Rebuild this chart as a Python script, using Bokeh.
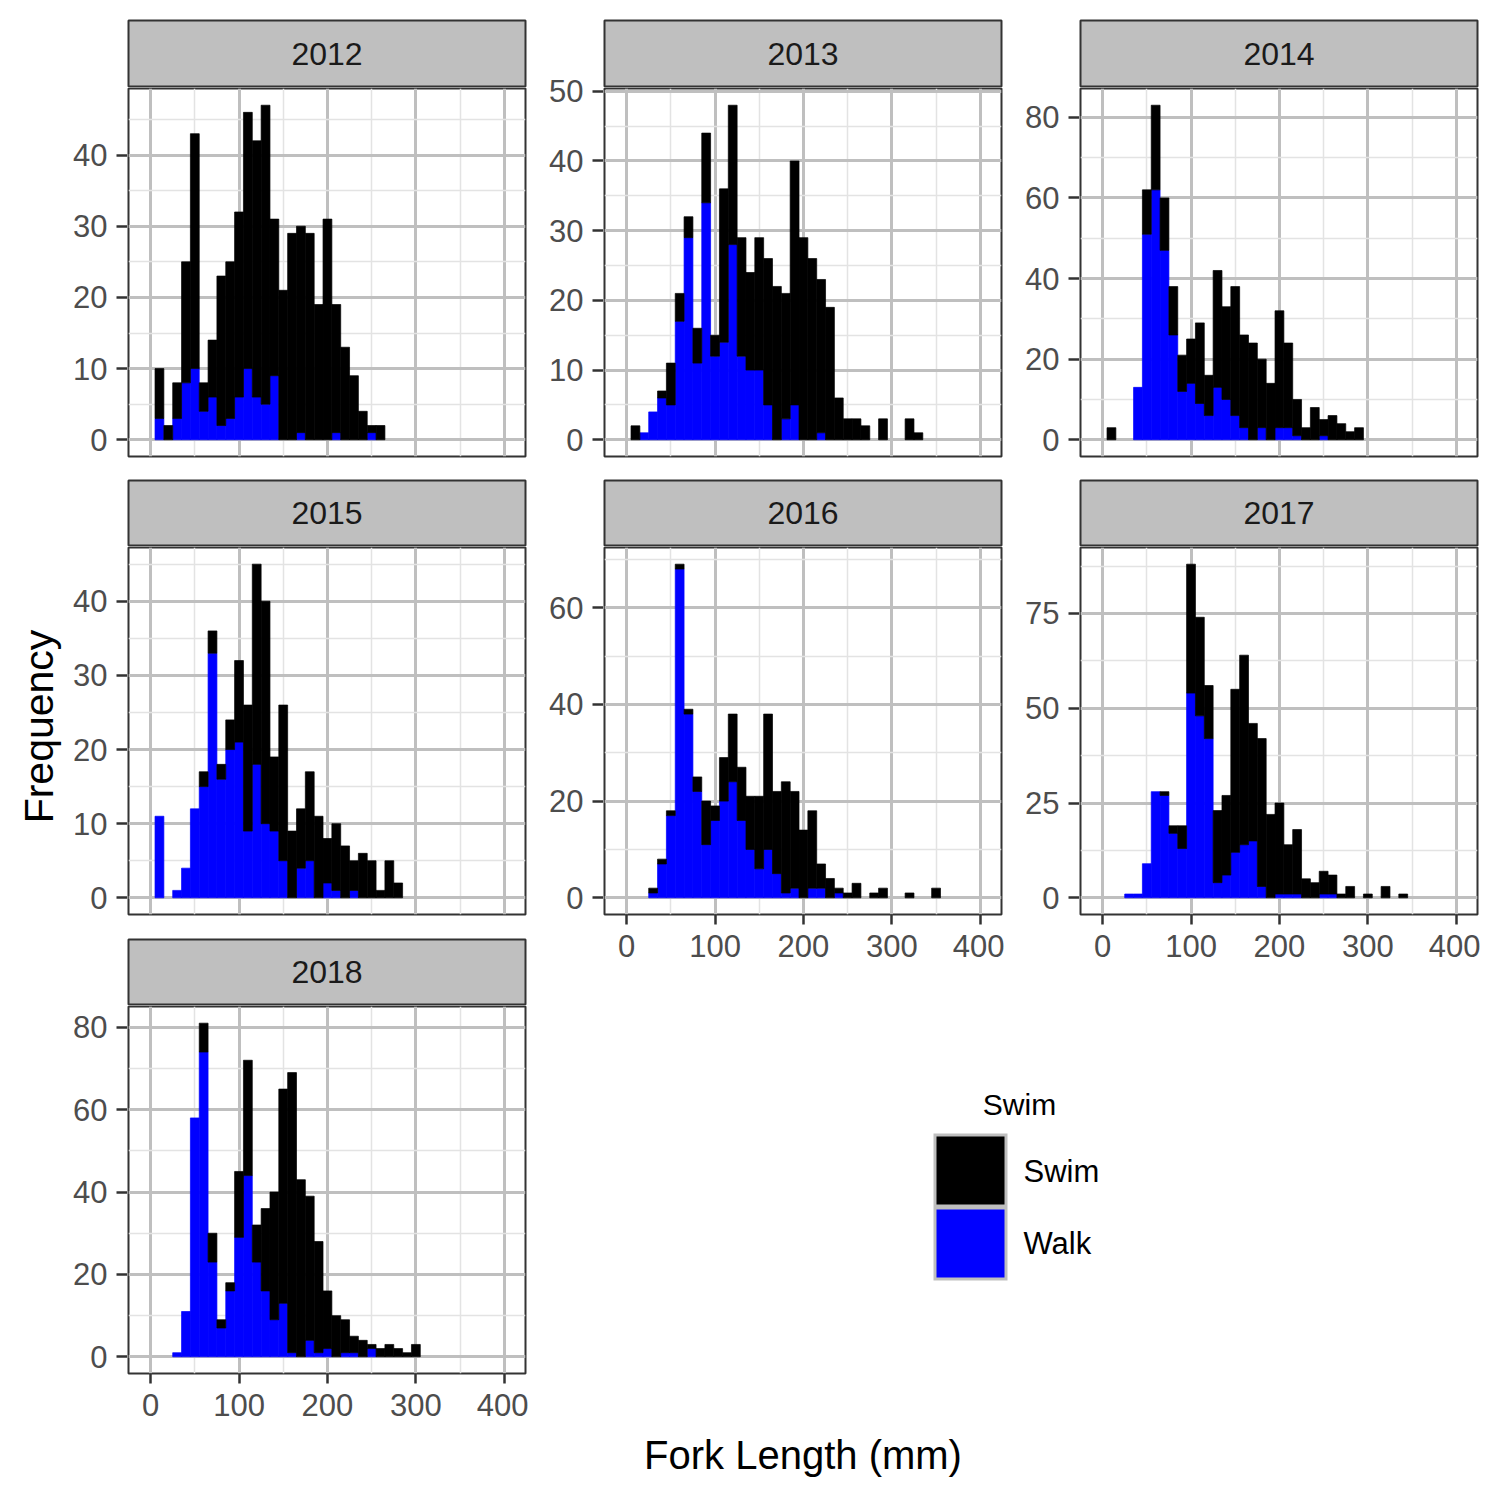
import math
from bokeh.plotting import figure
from bokeh.models import Range1d, FixedTicker, ColumnDataSource, Grid
from bokeh.layouts import row, column
from bokeh.core.properties import value
from bokeh.embed import file_html
from bokeh.resources import INLINE

FONT = "Liberation Sans"

# ---------------- data ----------------
bin_centers = [10, 20, 30, 40, 50, 60, 70, 80, 90, 100, 110, 120, 130, 140, 150,
               160, 170, 180, 190, 200, 210, 220, 230, 240, 250, 260, 270, 280,
               290, 300, 310, 320, 330, 340, 350]
bin_width = 10

years = ["2012", "2013", "2014", "2015", "2016", "2017", "2018"]

walk_2012 = [3, 0, 3, 8, 10, 4, 6, 2, 3, 6, 10, 6, 5, 9, 0, 0, 1, 0, 0, 0, 1, 0, 0, 0, 1, 0]
swim_2012 = [7, 2, 5, 17, 33, 4, 8, 21, 22, 26, 36, 36, 42, 22, 21, 29, 29, 29, 19, 31, 18, 13, 9, 4, 1, 2]

walk_2013 = [0, 1, 4, 6, 5, 17, 29, 11, 34, 12, 14, 28, 12, 10, 10, 5, 0, 3, 5, 0, 0, 1, 0, 0, 0, 0, 0, 0, 0, 0, 0, 0, 0]
swim_2013 = [2, 0, 0, 1, 6, 4, 3, 5, 10, 3, 22, 20, 17, 14, 19, 21, 22, 18, 35, 29, 26, 22, 19, 6, 3, 3, 2, 0, 3, 0, 0, 3, 1]

walk_2014 = [0, 0, 0, 13, 51, 62, 47, 26, 12, 14, 9, 6, 13, 10, 6, 3, 0, 3, 0, 3, 3, 1, 0, 0, 1, 0, 0, 0, 0]
swim_2014 = [3, 0, 0, 0, 11, 21, 13, 12, 9, 11, 20, 10, 29, 23, 32, 23, 24, 17, 14, 29, 21, 9, 3, 8, 4, 6, 4, 2, 3]

walk_2015 = [11, 0, 1, 4, 12, 15, 33, 16, 20, 21, 9, 18, 10, 9, 5, 0, 4, 5, 0, 2, 1, 0, 1, 0, 0, 0, 0, 0]
swim_2015 = [0, 0, 0, 0, 0, 2, 3, 2, 4, 11, 17, 27, 30, 10, 21, 9, 8, 12, 11, 6, 9, 7, 4, 6, 5, 1, 5, 2]

walk_2016 = [0, 0, 1, 7, 17, 68, 38, 22, 11, 16, 20, 24, 16, 10, 6, 10, 5, 1, 2, 0, 2, 2, 0, 1, 0, 0, 0, 0, 0, 0, 0, 0, 0, 0, 0]
swim_2016 = [0, 0, 1, 1, 1, 1, 1, 3, 9, 3, 9, 14, 11, 11, 15, 28, 17, 23, 20, 14, 16, 5, 4, 1, 1, 3, 0, 1, 2, 0, 0, 1, 0, 0, 2]

walk_2017 = [0, 0, 1, 1, 9, 28, 27, 17, 13, 54, 48, 42, 4, 6, 12, 14, 15, 3, 0, 1, 1, 1, 0, 0, 1, 1, 0, 0, 0, 0, 0, 0, 0, 0]
swim_2017 = [0, 0, 0, 0, 0, 0, 1, 2, 6, 34, 26, 14, 19, 21, 43, 50, 31, 39, 22, 24, 13, 17, 5, 4, 6, 5, 1, 3, 0, 1, 0, 3, 0, 1]

walk_2018 = [0, 0, 1, 11, 58, 74, 23, 7, 16, 29, 44, 23, 16, 9, 13, 1, 0, 4, 1, 2, 0, 1, 1, 0, 2, 0, 0, 0, 0, 0]
swim_2018 = [0, 0, 0, 0, 0, 7, 7, 2, 2, 16, 28, 9, 20, 31, 52, 68, 43, 35, 27, 14, 10, 8, 4, 4, 1, 2, 3, 2, 1, 3]

x_ticks = [0, 100, 200, 300, 400]
x_minor_ticks = [50, 150, 250, 350]

y_ticks_2012 = [0, 10, 20, 30, 40]
y_minor_2012 = [5, 15, 25, 35, 45]
y_ticks_2013 = [0, 10, 20, 30, 40, 50]
y_minor_2013 = [5, 15, 25, 35, 45]
y_ticks_2014 = [0, 20, 40, 60, 80]
y_minor_2014 = [10, 30, 50, 70]
y_ticks_2015 = [0, 10, 20, 30, 40]
y_minor_2015 = [5, 15, 25, 35, 45]
y_ticks_2016 = [0, 20, 40, 60]
y_minor_2016 = [10, 30, 50, 70]
y_ticks_2017 = [0, 25, 50, 75]
y_minor_2017 = [12.5, 37.5, 62.5, 87.5]
y_ticks_2018 = [0, 20, 40, 60, 80]
y_minor_2018 = [10, 30, 50, 70]

walk_color = "#0000FF"
swim_color = "#000000"
legend_order = ["Swim", "Walk"]
legend_colors = ["#000000", "#0000FF"]
x_title = "Fork Length (mm)"
y_title = "Frequency"
legend_title = "Swim"

# ---------------- style ----------------
MAJOR_GRID = "#BFBFBF"
MINOR_GRID = "#E3E3E3"
BORDER = "#333333"
TICK_TXT = "#4D4D4D"
PW = 401  # width of strip / panel figures (1 + 397 frame + 3)


def style_axis(ax):
    ax.axis_line_color = None
    ax.major_tick_in = 1
    ax.major_tick_out = 10
    ax.minor_tick_in = 0
    ax.minor_tick_out = 0
    ax.major_tick_line_color = BORDER
    ax.major_tick_line_width = 2.5
    ax.major_label_text_font = FONT
    ax.major_label_text_font_size = "31px"
    ax.major_label_text_color = TICK_TXT


def make_cell(label, walk, swim, yticks, yminor, axis_w, strip_top, panel_h, bottom, show_x):
    strip_frame = 66 if strip_top > 1 else 65
    strip_h = strip_top + strip_frame + 1

    n = len(walk)
    xs = bin_centers[:n]
    totals = [w + s for w, s in zip(walk, swim)]
    ymax = max(totals)
    yr = Range1d(-0.05 * ymax, 1.05 * ymax)

    # strip
    s = figure(width=PW, height=strip_h, x_range=Range1d(0, 1), y_range=Range1d(0, 1),
               x_axis_type=None, y_axis_type=None,
               output_backend="svg", toolbar_location=None, title=None,
               min_border_left=1, min_border_right=3,
               min_border_top=strip_top, min_border_bottom=1)
    s.background_fill_color = "#BFBFBF"
    s.border_fill_color = "white"
    s.outline_line_color = BORDER
    s.outline_line_width = 2
    s.text(x=[0.5], y=[0.5], text=[label], text_align="center",
           text_baseline="middle", text_font=value(FONT),
           text_font_size="32px", text_color="#1A1A1A")

    # panel
    w_src = ColumnDataSource(dict(
        x=[x for x, w in zip(xs, walk) if w > 0],
        top=[w for w in walk if w > 0]))
    s_src = ColumnDataSource(dict(
        x=[x for x, sw in zip(xs, swim) if sw > 0],
        bottom=[w for w, sw in zip(walk, swim) if sw > 0],
        top=[w + sw for w, sw in zip(walk, swim) if sw > 0]))
    p = figure(width=PW, height=1 + panel_h + bottom,
               x_range=Range1d(-25, 424), y_range=yr,
               y_axis_type=None,
               output_backend="svg", toolbar_location=None, title=None,
               min_border_left=1, min_border_right=3,
               min_border_top=1, min_border_bottom=bottom)
    p.vbar(x="x", width=bin_width, bottom=0, top="top", source=w_src,
           fill_color=walk_color, line_color=walk_color, line_width=0.7)
    p.vbar(x="x", width=bin_width, bottom="bottom", top="top", source=s_src,
           fill_color=swim_color, line_color=swim_color, line_width=0.7)
    xt = FixedTicker(ticks=x_ticks, minor_ticks=x_minor_ticks)
    yt = FixedTicker(ticks=yticks, minor_ticks=yminor)
    p.xaxis.ticker = xt
    p.xgrid.ticker = xt
    p.add_layout(Grid(dimension=1, ticker=yt))
    for g in p.grid:
        g.grid_line_color = MAJOR_GRID
        g.grid_line_width = 3
        g.minor_grid_line_color = MINOR_GRID
        g.minor_grid_line_width = 1.5
    p.background_fill_color = "white"
    p.border_fill_color = "white"
    p.outline_line_color = BORDER
    p.outline_line_width = 2
    style_axis(p.xaxis[0])
    p.xaxis.major_tick_in = 0
    p.xaxis.major_label_standoff = 10
    p.xaxis.visible = show_x

    # y axis (own narrow figure so its labels may rise beside the strip)
    a = figure(width=axis_w, height=strip_h + 1 + panel_h + bottom,
               x_range=Range1d(0, 1), y_range=yr, x_axis_type=None,
               output_backend="svg", toolbar_location=None, title=None,
               min_border_left=axis_w - 1, min_border_right=0,
               min_border_top=strip_h + 1, min_border_bottom=bottom)
    a.yaxis.ticker = yt
    a.grid.visible = False
    a.outline_line_color = None
    a.background_fill_color = "white"
    a.border_fill_color = "white"
    style_axis(a.yaxis[0])
    a.yaxis.major_label_standoff = 9

    return row(a, column(s, p))


YW = 68
A1 = 59   # axis strip for column 1
A2 = 75   # axis strip for columns 2 and 3
XB = 56   # space under panels that carry an x axis

c1 = column(
    make_cell(years[0], walk_2012, swim_2012, y_ticks_2012, y_minor_2012, A1, 20, 368, 23, False),
    make_cell(years[3], walk_2015, swim_2015, y_ticks_2015, y_minor_2015, A1, 1, 367, 24, False),
    make_cell(years[6], walk_2018, swim_2018, y_ticks_2018, y_minor_2018, A1, 1, 367, XB, True),
)
c2 = column(
    make_cell(years[1], walk_2013, swim_2013, y_ticks_2013, y_minor_2013, A2, 20, 368, 23, False),
    make_cell(years[4], walk_2016, swim_2016, y_ticks_2016, y_minor_2016, A2, 1, 367, XB, True),
)
c3 = column(
    make_cell(years[2], walk_2014, swim_2014, y_ticks_2014, y_minor_2014, A2, 20, 368, 23, False),
    make_cell(years[5], walk_2017, swim_2017, y_ticks_2017, y_minor_2017, A2, 1, 367, XB, True),
)

C1_H = 87 + 392 + 67 + 392 + 67 + (1 + 367 + XB)
C2_H = 87 + 392 + 67 + (1 + 367 + XB)
LG_H = C1_H - C2_H
W1 = A1 + PW
W2 = A2 + PW
X0 = YW + W1  # page x where column 2 starts

# legend area (page pixel coordinates, y negated)
lg = figure(width=2 * W2, height=LG_H,
            x_range=Range1d(X0, X0 + 2 * W2), y_range=Range1d(-C1_H, -C2_H),
            x_axis_type=None, y_axis_type=None,
            output_backend="svg", toolbar_location=None, title=None,
            min_border_left=0, min_border_right=0, min_border_top=0, min_border_bottom=0)
lg.outline_line_color = None
lg.grid.visible = False
lg.quad(left=[933], right=[1007], top=[-1133], bottom=[-1280],
        fill_color="#BFBFBF", line_color=None)
lg.quad(left=[936, 936], right=[1004, 1004], top=[-1136, -1209], bottom=[-1204, -1277],
        fill_color=legend_colors, line_color=None)
lg.text(x=[1019], y=[-1104], text=[legend_title], text_align="center",
        text_baseline="middle", text_font=value(FONT), text_font_size="30px",
        text_color="black")
lg.text(x=[1023, 1023], y=[-1171, -1243], text=legend_order, text_align="left",
        text_baseline="middle", text_font=value(FONT), text_font_size="31px",
        text_color="black")

# y title
yl = figure(width=YW, height=C1_H,
            x_range=Range1d(0, YW), y_range=Range1d(-C1_H, 0),
            x_axis_type=None, y_axis_type=None,
            output_backend="svg", toolbar_location=None, title=None,
            min_border_left=0, min_border_right=0, min_border_top=0, min_border_bottom=0)
yl.outline_line_color = None
yl.grid.visible = False
yl.text(x=[38], y=[-726], text=[y_title], angle=math.pi / 2, text_align="center",
        text_baseline="middle", text_font=value(FONT), text_font_size="41px",
        text_color="black")

# x title
XL_H = 66
TOT_W = YW + W1 + 2 * W2
xl = figure(width=TOT_W, height=XL_H,
            x_range=Range1d(0, TOT_W), y_range=Range1d(-(C1_H + XL_H), -C1_H),
            x_axis_type=None, y_axis_type=None,
            output_backend="svg", toolbar_location=None, title=None,
            min_border_left=0, min_border_right=0, min_border_top=0, min_border_bottom=0)
xl.outline_line_color = None
xl.grid.visible = False
xl.text(x=[802.5], y=[-1454], text=[x_title], text_align="center",
        text_baseline="middle", text_font=value(FONT), text_font_size="40px",
        text_color="black")

layout = column(row(yl, c1, column(row(c2, c3), lg)), xl)

open("out.html", "w").write(file_html(layout, INLINE))
